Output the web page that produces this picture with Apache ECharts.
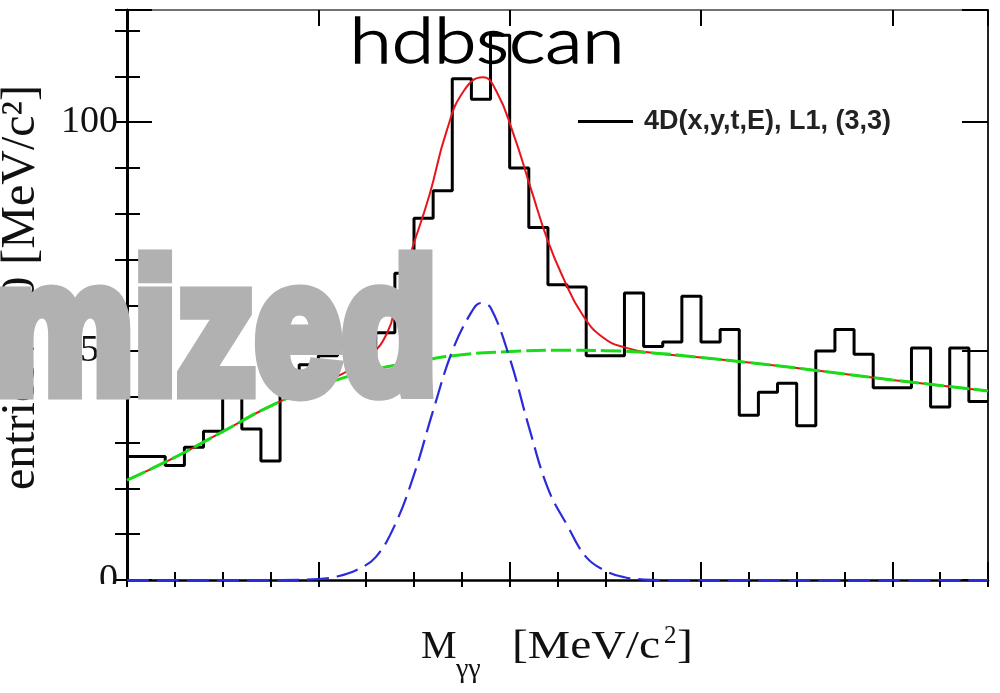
<!DOCTYPE html>
<html>
<head>
<meta charset="utf-8">
<script src="https://cdn.jsdelivr.net/npm/echarts@6/dist/echarts.min.js"></script>
<style>
html,body{margin:0;padding:0;background:#fff;}
#chart{width:1000px;height:693px;}
</style>
</head>
<body>
<div id="chart"></div>
<script>
// ---- data (x in bin units, 45 bins) ----
const counts = [27,27,25,29,32.5,43,33,26,41,47,49,51,49,54,67,79,85,109.5,105,119,90,77,64.5,64,49,49,62.7,51,52,62,52,54.7,36,41,43,33.7,50,54.7,49.3,42,42,50.7,37.8,50.7,39];
const fitTotal = [[0,21.8],[2.5,26.8],[5,32.4],[7.5,38],[10,42.5],[11,44.5],[11.5,45.6],[12.7,49],[13.6,54],[14.1,61],[14.8,71],[15.8,84],[16.7,98],[17.6,106.8],[18.6,109.8],[19.3,106.8],[20.2,97.4],[21.1,85.6],[22,74],[22.8,66],[23.8,58],[24.9,52.9],[26.1,50.7],[27.5,49.6],[30,48.6],[32.5,47.5],[35,46.3],[37.5,45],[40,43.7],[42.5,42.5],[45,41.3]];
const fitBackground = [[0,21.8],[2.5,26.8],[5,32.4],[7.5,38],[10,42.3],[12.5,45.5],[15,47.6],[17.5,49.2],[20,49.9],[22.5,50.2],[25,50.1],[27.5,49.6],[30,48.6],[32.5,47.5],[35,46.3],[37.5,45],[40,43.7],[42.5,42.5],[45,41.3]];
const fitSignal = [[0,0],[8,0],[10,0.2],[11,0.8],[12,2.2],[13,5],[14,12],[15,23],[16,37],[17,50],[18,58.5],[18.5,60.5],[19,59.5],[20,48.5],[21,33.5],[22,20],[23,12],[24,5],[25,2],[26,0.6],[27,0.1],[28,0],[45,0]];
const yTickLabels = {0:'0',50:'50',100:'100'};
const legendLabel = '4D(x,y,t,E), L1, (3,3)';
const titleText = 'hdbscan';
const overlayText = 'mized';
const xTitleMain = 'M', xTitleSub = 'γγ', xTitleUnitA = '[MeV/c', xTitleSup = '2', xTitleUnitB = ']';
const yTitle = 'entries / 10 [MeV/c²]';

const histData = counts.map((c, i) => [i, c]).concat([[counts.length, counts[counts.length - 1]]]);

const chart = echarts.init(document.getElementById('chart'), null, {renderer: 'canvas'});
const GRID = {left: 127, right: 12, top: 10, bottom: 113};
const XMIN = 0, XMAX = 45, YMIN = 0, YMAX = 124.5;

function xAx(grid, pos, interval, len, line) {
  return {
    type: 'value', gridIndex: grid, position: pos, min: XMIN, max: XMAX, interval: interval,
    axisLine: line ? {show: true, onZero: false, lineStyle: line} : {show: false},
    axisTick: {show: true, inside: true, length: len, lineStyle: {color: '#000', width: 2}},
    axisLabel: {show: false}, splitLine: {show: false}
  };
}
function yAx(grid, pos, interval, len, line, labels) {
  return {
    type: 'value', gridIndex: grid, position: pos, min: YMIN, max: YMAX, interval: interval,
    axisLine: line ? {show: true, onZero: false, lineStyle: line} : {show: false},
    axisTick: {show: true, inside: true, length: len, lineStyle: {color: '#000', width: 2}},
    axisLabel: labels ? {
      show: true, margin: 9, color: '#111', fontFamily: 'Liberation Serif', fontSize: 38,
      formatter: v => (yTickLabels[v] !== undefined ? yTickLabels[v] : '')
    } : {show: false},
    splitLine: {show: false}
  };
}
const serif = '"Liberation Serif"';
function txt(x, y, text, font, extra) {
  return Object.assign({type: 'text', z: 60, x: x, y: y,
    style: {text: text, font: font, fill: '#111', textAlign: 'left', textVerticalAlign: 'middle'}}, extra || {});
}

const option = {
  backgroundColor: '#fff',
  animation: false,
  grid: [Object.assign({}, GRID), Object.assign({}, GRID)],
  xAxis: [
    xAx(0, 'bottom', 10, 18, {color: '#000', width: 2.5}),
    xAx(0, 'top', 10, 16, {color: '#444', width: 1.5}),
    xAx(1, 'bottom', 2.5, 8, null),
    xAx(1, 'top', 2.5, 7, null)
  ],
  yAxis: [
    yAx(0, 'left', 50, 25, {color: '#000', width: 3}, true),
    yAx(0, 'right', 50, 26, {color: '#222', width: 2}, false),
    yAx(1, 'left', 10, 13, null, false),
    yAx(1, 'right', 10, 12, null, false)
  ],
  legend: {
    data: [{name: legendLabel, icon: 'rect'}],
    left: 573, top: 103, itemWidth: 55, itemHeight: 3, selectedMode: false,
    itemStyle: {borderWidth: 0},
    textStyle: {fontFamily: 'Liberation Sans', fontWeight: 'bold', fontSize: 27, color: '#222', padding: [0, 0, 0, 6]}
  },
  series: [
    {
      name: legendLabel, type: 'line', xAxisIndex: 0, yAxisIndex: 0, data: histData, step: 'end',
      symbol: 'none', itemStyle: {color: '#000'}, lineStyle: {color: '#000', width: 3}, z: 2
    },
    {
      name: 'total', type: 'line', xAxisIndex: 0, yAxisIndex: 0, data: fitTotal, smooth: 0.5,
      symbol: 'none', lineStyle: {color: '#e8141c', width: 2}, z: 3
    },
    {
      name: 'background', type: 'line', xAxisIndex: 0, yAxisIndex: 0, data: fitBackground, smooth: 0.5,
      symbol: 'none', lineStyle: {color: '#18dd18', width: 3, type: [20, 5]}, z: 4
    },
    {
      name: 'signal', type: 'line', xAxisIndex: 0, yAxisIndex: 0, data: fitSignal, smooth: 0.4,
      symbol: 'none', lineStyle: {color: '#2b2bd9', width: 2.2, type: [22, 8]}, z: 5
    }
  ],
  graphic: [
    {type: 'rect', z: 50, shape: {x: 60, y: 584, width: 64, height: 22}, style: {fill: '#fff'}},
    txt(421, 647, xTitleMain, '40px ' + serif),
    txt(456, 670, xTitleSub, '28px ' + serif),
    txt(512, 647, xTitleUnitA, '40px ' + serif, {scaleX: 1.19}),
    txt(664, 636, xTitleSup, '25px ' + serif),
    txt(677, 647, xTitleUnitB, '40px ' + serif, {scaleX: 1.19}),
    txt(21, 490, yTitle, '48px ' + serif, {rotation: Math.PI / 2}),
    {type: 'text', z: 80, x: 437, y: 341, scaleX: 0.78, scaleY: 0.93,
      style: {text: overlayText, font: 'bold 200px "Liberation Sans"', fill: '#b1b1b1', stroke: '#b1b1b1', lineWidth: 16, lineJoin: 'round', textAlign: 'right', textVerticalAlign: 'middle'}},
    {type: 'text', z: 90, x: 487, y: 42, scaleX: 1.2, style: {text: titleText, font: '300 64px Lato', fill: '#000', stroke: '#000', lineWidth: 1.4, textAlign: 'center', textVerticalAlign: 'middle'}}
  ]
};
chart.setOption(option);
</script>
</body>
</html>
